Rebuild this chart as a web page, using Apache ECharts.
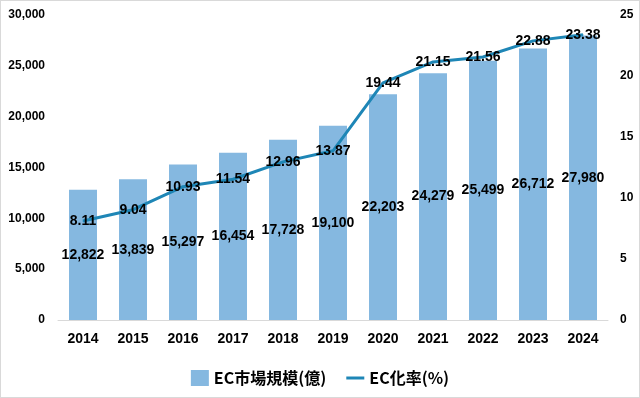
<!DOCTYPE html>
<html>
<head>
<meta charset="utf-8">
<script src="https://cdn.jsdelivr.net/npm/echarts@6/dist/echarts.min.js"></script>
<style>
  html, body { margin: 0; padding: 0; background: #fff; }
  #chart { width: 638px; height: 396px; border: 1px solid #d9d9d9; }
</style>
</head>
<body>
<div id="chart"></div>
<script>
const years = ['2014', '2015', '2016', '2017', '2018', '2019', '2020', '2021', '2022', '2023', '2024'];
const marketSize = [12822, 13839, 15297, 16454, 17728, 19100, 22203, 24279, 25499, 26712, 27980];
const ecRate = [8.11, 9.04, 10.93, 11.54, 12.96, 13.87, 19.44, 21.15, 21.56, 22.88, 23.38];
const leftTicks = [0, 5000, 10000, 15000, 20000, 25000, 30000];
const rightTicks = [0, 5, 10, 15, 20, 25];

const font = '"Liberation Sans", Arial, sans-serif';
const fmt = v => v.toLocaleString('en-US');

let myChart = echarts.init(document.getElementById('chart'));
let option = {
  animation: false,
  textStyle: { fontFamily: font },
  grid: { left: 57, right: 31, top: 14, bottom: 77 },
  legend: {
    bottom: 6,
    left: 'center',
    itemGap: 20,
    itemWidth: 18,
    itemHeight: 16,
    textStyle: { fontFamily: '"Noto Sans CJK JP", ' + font, fontSize: 16, fontWeight: 'bold', color: '#000' },
    data: [
      { name: 'EC市場規模(億)', icon: 'rect' },
      { name: 'EC化率(%)', icon: 'path://M0,0H18V3H0Z' }
    ]
  },
  xAxis: {
    type: 'category',
    data: years,
    axisLine: { lineStyle: { color: '#d9d9d9' } },
    axisTick: { show: false },
    axisLabel: { color: '#000', fontWeight: 'bold', fontSize: 14, margin: 12 }
  },
  yAxis: [
    {
      type: 'value',
      min: leftTicks[0],
      max: leftTicks[leftTicks.length - 1],
      interval: leftTicks[1] - leftTicks[0],
      splitLine: { show: false },
      axisLabel: { color: '#000', fontWeight: 'bold', fontSize: 12, margin: 13, formatter: fmt }
    },
    {
      type: 'value',
      min: rightTicks[0],
      max: rightTicks[rightTicks.length - 1],
      interval: rightTicks[1] - rightTicks[0],
      splitLine: { show: false },
      axisLabel: { color: '#000', fontWeight: 'bold', fontSize: 12, margin: 12 }
    }
  ],
  series: [
    {
      name: 'EC市場規模(億)',
      type: 'bar',
      data: marketSize,
      barWidth: 28,
      itemStyle: { color: '#85b8e0' },
      label: {
        show: true,
        position: 'inside',
        color: '#000',
        fontWeight: 'bold',
        fontSize: 14,
        formatter: p => fmt(p.value)
      }
    },
    {
      name: 'EC化率(%)',
      type: 'line',
      yAxisIndex: 1,
      data: ecRate,
      symbol: 'circle',
      symbolSize: 1,
      showSymbol: true,
      lineStyle: { color: '#1e86b6', width: 3 },
      itemStyle: { color: '#1e86b6' },
      label: {
        show: true,
        position: 'inside',
        color: '#000',
        fontWeight: 'bold',
        fontSize: 14,
        formatter: p => p.value.toFixed(2)
      },
      z: 3
    }
  ]
};
myChart.setOption(option);
</script>
</body>
</html>
